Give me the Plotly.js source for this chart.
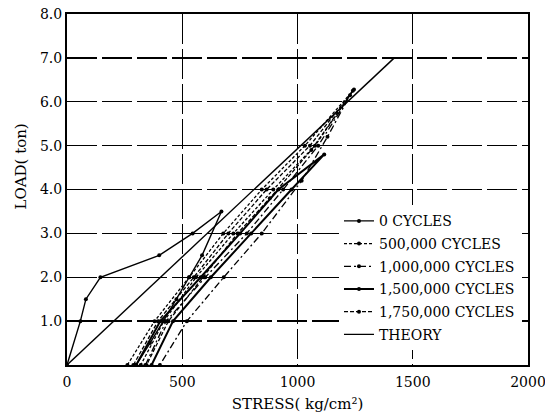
<!DOCTYPE html>
<html>
<head>
<meta charset="utf-8">
<script src="https://cdn.plot.ly/plotly-3.0.1.min.js"></script>
<style>html,body{margin:0;padding:0;background:#fff;}#chart{width:545px;height:417px;}</style>
</head>
<body>
<div id="chart"></div>
<script>
// ---- data (stress in kg/cm², load in ton) ----
var xTicks = [0, 500, 1000, 1500, 2000];
var yTicks = [1, 2, 3, 4, 5, 6, 7, 8];
var yTickText = ['1.0', '2.0', '3.0', '4.0', '5.0', '6.0', '7.0', '8.0'];

var theoryStress = [0, 1420];
var theoryLoad = [0, 7.0];

var c0Stress = [0, 58, 82, 145, 400, 545, 670, 586, 530, 475, 418, 360, 300];
var c0Load   = [0, 1.0, 1.5, 2.0, 2.5, 3.0, 3.5, 2.5, 2.0, 1.5, 1.0, 0.5, 0];

var c500kStress = [262, 380, 530, 678, 845, 1032, 1245, 1076, 895, 722, 560, 420, 320];
var c500kLoad   = [0, 1.0, 2.0, 3.0, 4.0, 5.0, 6.28, 5.0, 4.0, 3.0, 2.0, 1.0, 0];

var c1mStress = [340, 430, 600, 780, 938, 1090, 1228, 1130, 1018, 845, 680, 520, 403];
var c1mLoad   = [0, 1.0, 2.0, 3.0, 4.0, 5.0, 6.15, 5.2, 4.2, 3.0, 2.0, 1.0, 0];

var c15mStress = [300, 405, 580, 751, 917, 1116, 974, 799, 624, 460, 367];
var c15mLoad   = [0, 1.0, 2.0, 3.0, 4.0, 4.8, 4.0, 3.0, 2.0, 1.0, 0];

var c175mStress = [288, 395, 550, 700, 866, 1054, 1240, 1060, 880, 740, 590, 440, 345];
var c175mLoad   = [0, 1.0, 2.0, 3.0, 4.0, 5.0, 6.25, 4.9, 3.8, 3.0, 2.0, 1.0, 0];

var seriesNames = ['0 CYCLES', '500,000 CYCLES', '1,000,000 CYCLES', '1,500,000 CYCLES', '1,750,000 CYCLES', 'THEORY'];

var FONT = 'DejaVu Serif, Liberation Serif, serif';

function tr(x, y, name, dash, width, withMarkers) {
  return {
    x: x, y: y, name: name, type: 'scatter', legendgroup: name,
    mode: withMarkers ? 'lines+markers' : 'lines',
    line: {color: '#000', width: width, dash: dash},
    marker: {color: '#000', size: 4},
    hoverinfo: 'skip'
  };
}

var data = [
  tr(c0Stress, c0Load, seriesNames[0], 'solid', 1.4, true),
  tr(c500kStress, c500kLoad, seriesNames[1], '3px,2px', 1.3, true),
  tr(c1mStress, c1mLoad, seriesNames[2], '7px,3px,2px,3px', 1.3, true),
  tr(c15mStress, c15mLoad, seriesNames[3], 'solid', 2, true),
  tr(c175mStress, c175mLoad, seriesNames[4], '4px,2px', 1.3, true),
  tr(theoryStress, theoryLoad, seriesNames[5], 'solid', 1.4, false)
];

var axisCommon = {
  showline: true, linecolor: '#000', linewidth: 2, mirror: true,
  showgrid: true, gridcolor: '#000', gridwidth: 1.4, griddash: '30px,5px',
  zeroline: false, ticks: '', ticklabeloverflow: 'allow',
  tickfont: {family: FONT, size: 14, color: '#000'}
};

var layout = {
  width: 545, height: 417,
  margin: {l: 67, r: 17, t: 14, b: 52},
  paper_bgcolor: '#fff', plot_bgcolor: '#fff',
  showlegend: true,
  legend: {
    x: 0.59, y: 0.455, xanchor: 'left', yanchor: 'top',
    bgcolor: '#fff', borderwidth: 0, traceorder: 'grouped', tracegroupgap: 1.5,
    font: {family: FONT, size: 14, color: '#000'}
  },
  xaxis: Object.assign({}, axisCommon, {
    range: [0, 2000], tickvals: xTicks,
    ticks: 'outside', ticklen: 3, tickcolor: 'rgba(0,0,0,0)',
    title: {text: 'STRESS( kg/cm²)', font: {family: FONT, size: 15, color: '#000'}, standoff: 10}
  }),
  yaxis: Object.assign({}, axisCommon, {
    range: [0, 8], tickvals: yTicks, ticktext: yTickText
  }),
  annotations: [{
    text: 'LOAD( ton)', xref: 'paper', yref: 'paper', x: -0.1, y: 0.565,
    textangle: -90, showarrow: false, xanchor: 'center', yanchor: 'middle',
    font: {family: FONT, size: 15, color: '#000'}
  }]
};

Plotly.newPlot('chart', data, layout, {staticPlot: true, displayModeBar: false});
</script>
</body>
</html>
